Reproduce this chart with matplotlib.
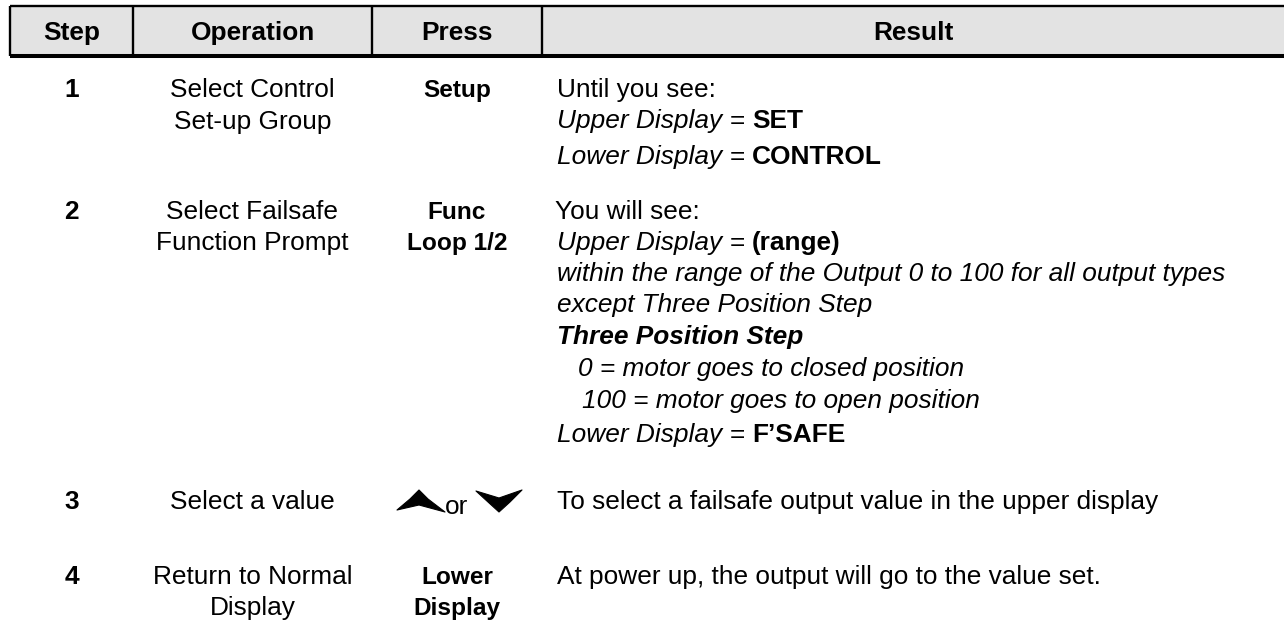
import matplotlib
matplotlib.use("Agg")
import matplotlib.pyplot as plt
from matplotlib.patches import Polygon, Rectangle

plt.rcParams["font.family"] = ["Liberation Sans", "DejaVu Sans"]

W, H = 1284, 629
FS = 18.9                     # pt -> about 26 px em at dpi 100
EM = FS * 100 / 72
GRID = "black"
HEAD_BG = "#e3e3e3"

# ---- table content ------------------------------------------------------
HEADERS = ["Step", "Operation", "Press", "Result"]
STEPS = ["1", "2", "3", "4"]
OPERATIONS = [["Select Control", "Set-up Group"],
              ["Select Failsafe", "Function Prompt"],
              ["Select a value"],
              ["Return to Normal", "Display"]]
PRESSES = [["Setup"], ["Func", "Loop 1/2"], ["or"], ["Lower", "Display"]]
# result lines as runs of (text, style): n normal, i italic, b bold, bi bold italic
RESULTS = [
    [[("Until you see:", "n")],
     [("Upper Display", "i"), ("=", "n"), ("SET", "b")],
     [("Lower Display", "i"), ("=", "n"), ("CONTROL", "b")]],
    [[("You will see:", "n")],
     [("Upper Display", "i"), ("=", "n"), ("(range)", "b")],
     [("within the range of the Output 0 to 100 for all output types", "i")],
     [("except Three Position Step", "i")],
     [("Three Position Step", "bi")],
     [("0 = motor goes to closed position", "i")],
     [("100 = motor goes to open position", "i")],
     [("Lower Display", "i"), ("=", "n"), ("F\u2019SAFE", "b")]],
    [[("To select a failsafe output value in the upper display", "n")]],
    [[("At power up, the output will go to the value set.", "n")]],
]

# ---- layout (pixels) ----------------------------------------------------
COL_X = [10, 133, 372, 542, 1284]
HEAD_TOP, HEAD_BOT = 6, 56
OP_Y = [[88, 120], [210, 241], [500], [575, 606]]
PRESS_Y = [[88], [210, 241], [505], [575, 606]]
RES_Y = [[88, 119, 155], [210, 241, 272, 303, 335, 367, 399, 433], [500], [575]]
RES_X = [[557, 557, 557], [555, 557, 557, 557, 557, 578, 582, 557], [557], [557]]
BASE = 0.34 * EM               # visual centre -> baseline

STYLE = {"n": dict(fontweight="normal", fontstyle="normal"),
         "i": dict(fontweight="normal", fontstyle="italic"),
         "b": dict(fontweight="bold", fontstyle="normal"),
         "bi": dict(fontweight="bold", fontstyle="italic")}

fig = plt.figure(figsize=(W / 100, H / 100), dpi=100)
ax = fig.add_axes([0, 0, 1, 1])
ax.set_xlim(0, W)
ax.set_ylim(H, 0)
ax.axis("off")
renderer = fig.canvas.get_renderer()

# ---- header band --------------------------------------------------------
ax.add_patch(Rectangle((COL_X[0], HEAD_TOP), W - COL_X[0], HEAD_BOT - HEAD_TOP,
                       facecolor=HEAD_BG, edgecolor="none", zorder=0))
ax.plot([COL_X[0], W], [HEAD_TOP, HEAD_TOP], color=GRID, lw=1.7, solid_capstyle="butt")
ax.plot([COL_X[0], W], [HEAD_BOT, HEAD_BOT], color=GRID, lw=2.9, solid_capstyle="butt")
for x in COL_X[:-1]:
    ax.plot([x, x], [HEAD_TOP, HEAD_BOT], color=GRID, lw=1.7, solid_capstyle="butt")
for i, h in enumerate(HEADERS):
    cx = (COL_X[i] + COL_X[i + 1]) / 2
    ax.text(cx, (HEAD_TOP + HEAD_BOT) / 2 + BASE, h, ha="center", va="baseline",
            fontsize=FS, fontweight="bold")

# ---- body ---------------------------------------------------------------
def runs(x, y, parts):
    for k, (s, st) in enumerate(parts):
        t = ax.text(x, y, s, ha="left", va="baseline", fontsize=FS, **STYLE[st])
        x += t.get_window_extent(renderer).width + 0.278 * EM


for r in range(len(STEPS)):
    ax.text((COL_X[0] + COL_X[1]) / 2, OP_Y[r][0] + BASE, STEPS[r], ha="center",
            va="baseline", fontsize=FS, fontweight="bold")
    for s, y in zip(OPERATIONS[r], OP_Y[r]):
        ax.text((COL_X[1] + COL_X[2]) / 2, y + BASE, s, ha="center", va="baseline",
                fontsize=FS)
    pcx = (COL_X[2] + COL_X[3]) / 2
    if r == 2:
        # up / down key glyphs around "or"
        ax.text(pcx - 1, PRESS_Y[r][0] + BASE, "or", ha="center", va="baseline",
                fontsize=FS)
        up = [(397, 510), (410, 499), (419, 490), (428, 499), (445, 512), (419, 505)]
        dn = [(476, 491), (499, 498), (522, 490), (510, 502), (499, 512), (488, 502)]
        for pts in (up, dn):
            ax.add_patch(Polygon(pts, closed=True, facecolor="black",
                                 edgecolor="black", lw=0.8, joinstyle="round"))
    else:
        for s, y in zip(PRESSES[r], PRESS_Y[r]):
            ax.text(pcx, y + BASE, s, ha="center", va="baseline", fontsize=FS * 0.93,
                    fontweight="bold")
    for parts, y, x in zip(RESULTS[r], RES_Y[r], RES_X[r]):
        runs(x, y + BASE, parts)

fig.savefig("out.png", dpi=100)
